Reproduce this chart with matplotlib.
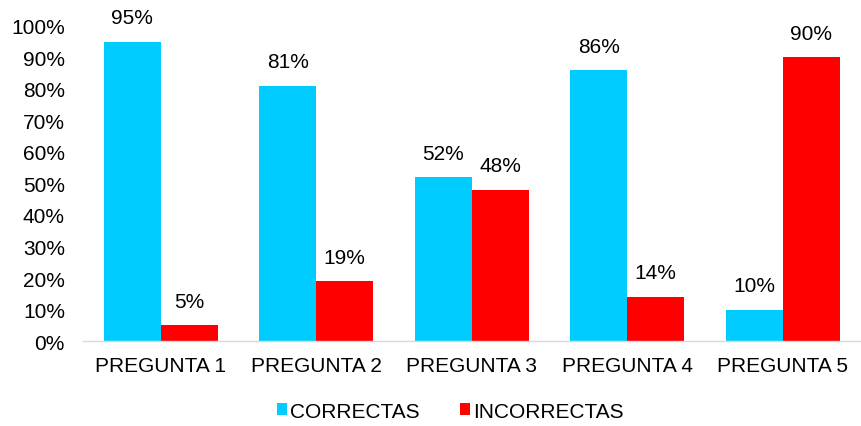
import matplotlib
matplotlib.use("Agg")
import matplotlib.pyplot as plt
import numpy as np
from matplotlib.ticker import FuncFormatter

plt.rcParams['font.family'] = ['Liberation Sans', 'DejaVu Sans']

preguntas = ["PREGUNTA 1", "PREGUNTA 2", "PREGUNTA 3", "PREGUNTA 4", "PREGUNTA 5"]
correctas = [95, 81, 52, 86, 10]
incorrectas = [5, 19, 48, 14, 90]

color_ok = "#00CCFF"
color_bad = "#FF0000"
fs = 15

fig = plt.figure(figsize=(8.61, 4.27), dpi=100)
ax = fig.add_axes([0.0964, 0.199, 0.903, 0.738])

x = np.arange(len(preguntas))
w = 0.367
b1 = ax.bar(x - w / 2, correctas, w, color=color_ok, label="CORRECTAS")
b2 = ax.bar(x + w / 2, incorrectas, w, color=color_bad, label="INCORRECTAS")

for bars, vals in ((b1, correctas), (b2, incorrectas)):
    for rect, v in zip(bars, vals):
        ax.text(rect.get_x() + rect.get_width() / 2, v + 7.6, f"{v}%",
                ha="center", va="center", fontsize=fs, clip_on=False)

ax.set_xlim(-0.5, len(preguntas) - 0.5)
ax.set_ylim(0, 100)
ax.set_yticks(np.arange(0, 101, 10))
ax.yaxis.set_major_formatter(FuncFormatter(lambda v, p: f"{int(v)}%"))
ax.set_xticks(x)
ax.set_xticklabels(preguntas)
ax.tick_params(axis="both", length=0, labelsize=fs, colors="#000000")
ax.tick_params(axis="x", pad=11)
ax.tick_params(axis="y", pad=13)

for s in ("top", "right", "left"):
    ax.spines[s].set_visible(False)
ax.spines["bottom"].set_color("#D9D9D9")
ax.spines["bottom"].set_linewidth(1.0)

fig.legend(handles=[b1, b2], loc="center", bbox_to_anchor=(0.523, 0.035),
           ncol=2, frameon=False, fontsize=fs, handlelength=0.5, handleheight=0.5,
           handletextpad=0.15, columnspacing=1.9)

fig.savefig("out.png", dpi=100)
